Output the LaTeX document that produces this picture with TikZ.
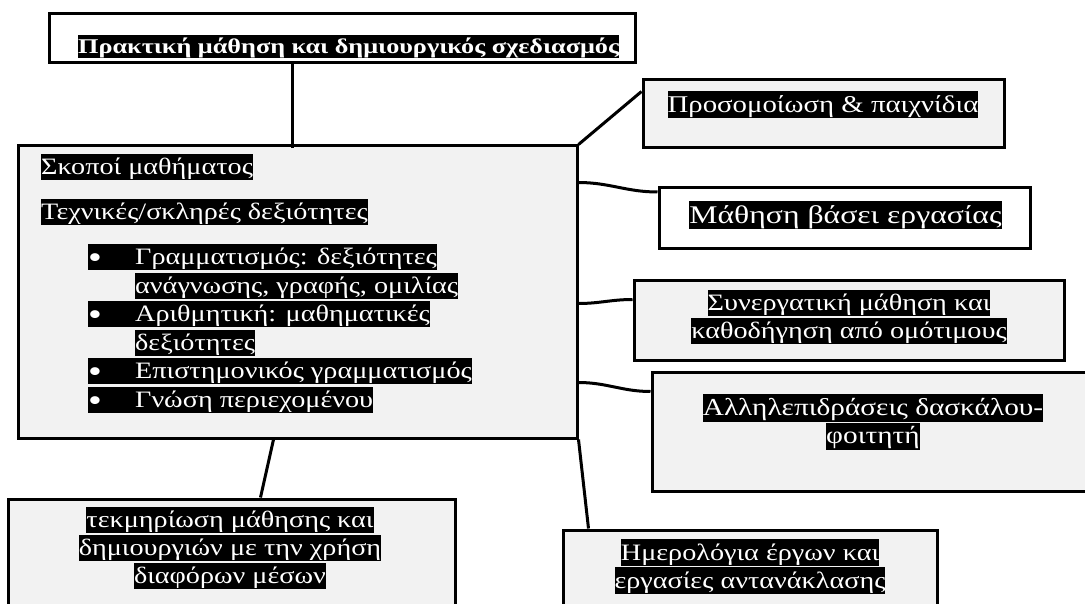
\documentclass[tikz,border=0pt]{standalone}
\usepackage{fontspec}
\setmainfont{Liberation Serif}[FakeStretch=1.2]
\usepackage{xcolor}
\definecolor{boxgray}{RGB}{242,242,242}
\usepackage{tikz}
\usetikzlibrary{positioning}
\newcommand{\hl}[1]{\begingroup\setlength{\fboxsep}{0pt}\colorbox{black}{\color{white}\rule[-.23em]{0pt}{1.11em}#1}\endgroup}
\newcommand{\bul}{\makebox[47pt][l]{\raisebox{-.16em}{\scalebox{1.4}{\textbullet}}}}
\tikzset{
  graybox/.style ={ rectangle, draw=black, fill=boxgray, line width=3pt, inner sep=0pt },
  whitebox/.style={ rectangle, draw=black, fill=white,   line width=3pt, inner sep=0pt },
  boxtext/.style ={ font=\fontsize{23.5}{28}\selectfont, inner sep=0pt, align=center },
  listtext/.style={ font=\fontsize{23.5}{28.5}\selectfont, inner sep=0pt, align=left },
  link/.style={draw=black, line width=3pt}
}

\begin{document}
\begin{tikzpicture}[x=1pt,y=-1pt]
        \clip (0,0) rectangle (1085,604);
        % boxes
        \node[whitebox, minimum width=586pt, minimum height=49pt]  (title) at (342, 38.5) {};
        \node[graybox,  minimum width=559pt, minimum height=292pt] (main)  at (297.5, 292) {};
        \node[graybox,  minimum width=361pt, minimum height=68pt]  (sim)   at (823.5, 114) {};
        \node[whitebox, minimum width=371pt, minimum height=61pt]  (task)  at (844.5, 218) {};
        \node[graybox,  minimum width=430pt, minimum height=79pt]  (peer)  at (849, 320.5) {};
        \node[graybox,  minimum width=458pt, minimum height=119pt] (inter) at (881, 431.5) {};
        \node[graybox,  minimum width=447pt, minimum height=131pt] (docu)  at (231.5, 564.5) {};
        \node[graybox,  minimum width=374pt, minimum height=100pt] (diary) at (750, 580) {};
        % links
        \draw[link] ([xshift=245pt]title.south west) -- ([xshift=276pt,yshift=-4pt]main.north west);
        \draw[link] (main.north east) -- ([yshift=-13pt]sim.north west);
        \draw[link] ([yshift=-38pt]main.north east) to[out=0,in=180] ([yshift=-6pt]task.north west);
        \draw[link] ([yshift=-159pt]main.north east) to[out=0,in=180] ([yshift=-20pt]peer.north west);
        \draw[link] ([yshift=-238pt]main.north east) to[out=0,in=180] ([yshift=-21pt]inter.north west);
        \draw[link] ([xshift=257pt]main.south west) -- ([xshift=254pt]docu.north west);
        \draw[link] (main.south east) -- ([xshift=27pt]diary.north west);
        % texts
        \node[boxtext, anchor=west, font=\fontsize{21}{24}\selectfont\bfseries] (titletext) at (78, 46.5)
          {\scalebox{1.04}[1]{\hl{Πρακτική μάθηση και δημιουργικός σχεδιασμός}}};
        \node[listtext, anchor=west] (goals)  at (41, 167) {\hl{Σκοποί μαθήματος}};
        \node[listtext, anchor=west] (skills) at (41, 212) {\hl{Τεχνικές/σκληρές δεξιότητες}};
        \node[listtext, anchor=north west] (list) at (88, 244) {%
          \hl{\bul Γραμματισμός: δεξιότητες}\\
          \hspace*{47pt}\hl{ανάγνωσης, γραφής, ομιλίας}\\
          \hl{\bul Αριθμητική: μαθηματικές}\\
          \hspace*{47pt}\hl{δεξιότητες}\\
          \hl{\bul Επιστημονικός γραμματισμός}\\
          \hl{\bul Γνώση περιεχομένου}};
        \node[boxtext, font=\fontsize{24}{28}\selectfont] (simtext) at (823, 104.5) {\hl{Προσομοίωση \& παιχνίδια}};
        \node[boxtext, font=\fontsize{25.4}{28}\selectfont] (tasktext) at (845.5, 215)
          {\scalebox{1.04}[1]{\hl{Μάθηση βάσει εργασίας}}};
        \node[boxtext] (peertext)  at (849, 317) {\hl{Συνεργατική μάθηση και}\\\hl{καθοδήγηση από ομότιμους}};
        \node[boxtext, font=\fontsize{24.4}{27}\selectfont] (intertext) at (873, 422)
          {\hl{Αλληλεπιδράσεις δασκάλου-}\\\hl{φοιτητή}};
        \node[boxtext] (docutext)  at (230, 548) {\hl{τεκμηρίωση μάθησης και}\\\hl{δημιουργιών με την χρήση}\\\hl{διαφόρων μέσων}};
        \node[boxtext] (diarytext) at (750, 566.5) {\hl{Ημερολόγια έργων και}\\\hl{εργασίες αντανάκλασης}};
\end{tikzpicture}
\end{document}
